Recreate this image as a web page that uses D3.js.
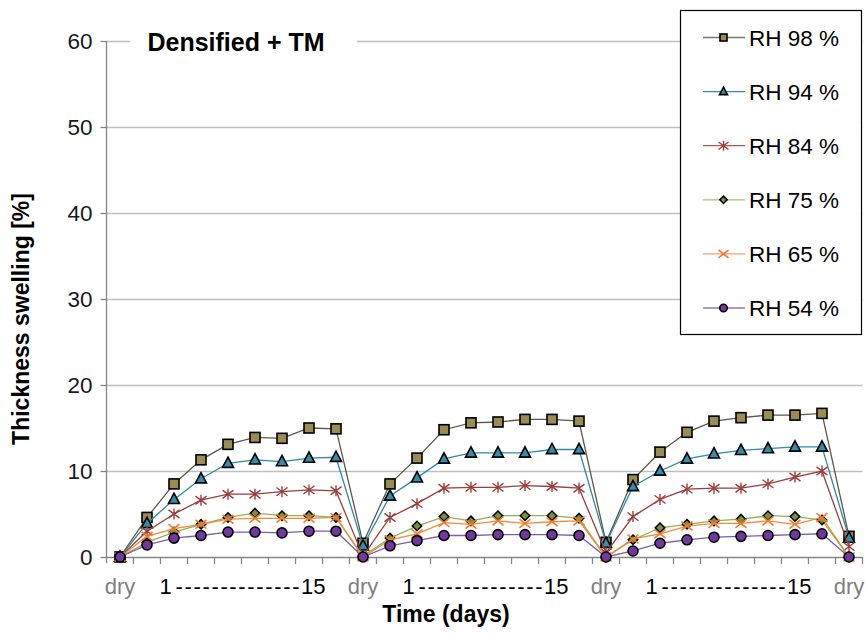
<!DOCTYPE html>
<html>
<head>
<meta charset="utf-8">
<script src="https://cdn.jsdelivr.net/npm/d3@7"></script>
<style>
  body { margin: 0; background: #fff; }
  svg { display: block; font-family: "Liberation Sans", Arial, sans-serif; }
</style>
</head>
<body>
<svg id="chart" width="865" height="633"></svg>
<script>
// Measurement points: a dry reference, eight readings over days 1-15, repeated for three cycles
const categories = [
  "dry 0", "I-1", "I-2", "I-3", "I-4", "I-5", "I-6", "I-7", "I-8",
  "dry 1", "II-1", "II-2", "II-3", "II-4", "II-5", "II-6", "II-7", "II-8",
  "dry 2", "III-1", "III-2", "III-3", "III-4", "III-5", "III-6", "III-7", "III-8",
  "dry 3"
];
const dryPoints = ["dry 0", "dry 1", "dry 2", "dry 3"];
const cycles = [
  ["I-1", "I-8"],
  ["II-1", "II-8"],
  ["III-1", "III-8"]
];
const cycleStart = "1";
const cycleEnd = "15";
const dryLabel = "dry";

const seriesNames = ["RH 98 %", "RH 94 %", "RH 84 %", "RH 75 %", "RH 65 %", "RH 54 %"];

// Thickness swelling [%]
const rh98 = [0, 4.6, 8.5, 11.3, 13.1, 13.9, 13.8, 15.0, 14.9,
              1.6, 8.5, 11.5, 14.8, 15.6, 15.7, 16.0, 16.0, 15.8,
              1.7, 9.0, 12.2, 14.5, 15.8, 16.2, 16.5, 16.5, 16.7,
              2.4];
const rh94 = [0, 3.9, 6.7, 9.1, 10.9, 11.3, 11.1, 11.5, 11.6,
              1.3, 7.1, 9.2, 11.4, 12.1, 12.1, 12.1, 12.5, 12.5,
              1.6, 8.2, 10.0, 11.4, 12.0, 12.4, 12.6, 12.8, 12.8,
              2.2];
const rh84 = [0, 3.0, 5.0, 6.6, 7.3, 7.3, 7.6, 7.8, 7.7,
              0.1, 4.6, 6.2, 8.0, 8.1, 8.1, 8.3, 8.2, 8.0,
              0.5, 4.7, 6.7, 7.9, 8.0, 8.0, 8.5, 9.3, 10.0,
              1.2];
const rh75 = [0, 1.7, 2.9, 3.8, 4.6, 5.1, 4.8, 4.8, 4.6,
              0.1, 2.2, 3.6, 4.7, 4.2, 4.8, 4.8, 4.8, 4.5,
              0, 2.0, 3.4, 3.8, 4.2, 4.4, 4.8, 4.7, 4.3,
              0];
const rh65 = [0, 2.4, 3.3, 3.8, 4.4, 4.5, 4.5, 4.5, 4.6,
              0, 2.0, 2.7, 4.0, 3.8, 4.2, 3.9, 4.1, 4.2,
              0, 2.1, 2.7, 3.6, 3.9, 3.9, 4.2, 3.8, 4.6,
              0];
const rh54 = [0, 1.4, 2.2, 2.5, 2.9, 2.9, 2.8, 3.0, 3.0,
              0, 1.3, 1.9, 2.5, 2.5, 2.6, 2.6, 2.6, 2.5,
              0, 0.7, 1.6, 2.0, 2.3, 2.4, 2.5, 2.6, 2.7,
              0];

const yTicks = [0, 10, 20, 30, 40, 50, 60];
const chartTitle = "Densified + TM";
const xTitle = "Time (days)";
const yTitle = "Thickness swelling [%]";

// Drawing styles per series
const styles = [
  { line: "#5c5846", fill: "#9a8c55", shape: "square" },
  { line: "#2e8aa6", fill: "#2f8fae", shape: "triangle" },
  { line: "#9c3d3b", fill: "#9c3d3b", shape: "star" },
  { line: "#8fb254", fill: "#76923a", shape: "diamond" },
  { line: "#f58a3c", fill: "#f07a2a", shape: "x" },
  { line: "#7f5ea8", fill: "#7338a0", shape: "circle" }
];
const legendLine = ["#7b7768", "#3a8ca6", "#b55753", "#a3c270", "#f7a06a", "#9577b7"];

const values = [rh98, rh94, rh84, rh75, rh65, rh54];
const series = seriesNames.map((name, i) => ({
  name,
  style: styles[i],
  legendLine: legendLine[i],
  points: categories.map((c, j) => ({ cat: c, v: values[i][j] }))
}));

const svg = d3.select("#chart");
const plot = { left: 106.5, right: 862.5, top: 41, bottom: 557 };

const x = d3.scaleBand().domain(categories).range([plot.left, plot.right]).paddingInner(0).paddingOuter(0);
const y = d3.scaleLinear().domain([0, 60]).range([plot.bottom, plot.top]);
const cx = c => x(c) + x.bandwidth() / 2;

const gridColor = "#bfbfbf";
const axisColor = "#868686";

// horizontal gridlines
svg.append("g").selectAll("line")
  .data(yTicks.filter(t => t > 0))
  .join("line")
  .attr("x1", plot.left).attr("x2", plot.right)
  .attr("y1", d => Math.round(y(d)) + 0.5).attr("y2", d => Math.round(y(d)) + 0.5)
  .attr("stroke", gridColor).attr("stroke-width", 1.3);

// y axis
const yAxis = d3.axisLeft(y).tickValues(yTicks).tickSize(6).tickPadding(8).tickFormat(d3.format("d"));
const gy = svg.append("g").attr("transform", `translate(${plot.left},0)`).call(yAxis);
gy.select(".domain").remove();
gy.selectAll(".tick line").attr("stroke", axisColor).attr("stroke-width", 1.3);
gy.selectAll(".tick text").attr("font-size", 22.5).attr("fill", "#1a1a1a")
  .attr("font-family", "Liberation Sans, Arial, sans-serif");
svg.append("line")
  .attr("x1", plot.left).attr("x2", plot.left)
  .attr("y1", plot.top).attr("y2", plot.bottom + 6)
  .attr("stroke", axisColor).attr("stroke-width", 1.3);

// x axis with ticks on category boundaries
svg.append("line")
  .attr("x1", plot.left).attr("x2", plot.right)
  .attr("y1", plot.bottom + 0.5).attr("y2", plot.bottom + 0.5)
  .attr("stroke", axisColor).attr("stroke-width", 1.3);
svg.append("g").selectAll("line")
  .data(categories.slice(1).concat(["__end"]))
  .join("line")
  .attr("x1", d => d === "__end" ? plot.right : x(d))
  .attr("x2", d => d === "__end" ? plot.right : x(d))
  .attr("y1", plot.bottom).attr("y2", plot.bottom + 7)
  .attr("stroke", axisColor).attr("stroke-width", 1.3);

// x category labels
const labelY = 594;
svg.append("g").selectAll("text")
  .data(dryPoints)
  .join("text")
  .attr("x", d => cx(d)).attr("y", labelY)
  .attr("text-anchor", "middle")
  .attr("font-size", 22).attr("fill", "#7f7f7f")
  .text(dryLabel);

const cyc = svg.append("g").selectAll("g").data(cycles).join("g")
  .attr("transform", d => `translate(${(cx(d[0]) + cx(d[1])) / 2},${labelY})`);
cyc.append("text").attr("x", -82).attr("text-anchor", "start")
  .attr("font-size", 22).attr("fill", "#000").text(cycleStart);
cyc.append("text").attr("x", 84).attr("text-anchor", "end")
  .attr("font-size", 22).attr("fill", "#000").text(cycleEnd);
cyc.append("text").attr("x", -66)
  .attr("font-size", 22).attr("fill", "#000")
  .attr("textLength", 124).attr("lengthAdjust", "spacing")
  .text(d3.range(14).map(() => "-").join(" "));

// axis titles
svg.append("text")
  .attr("x", 446).attr("y", 622)
  .attr("text-anchor", "middle").attr("font-weight", "bold").attr("font-size", 23)
  .text(xTitle);
svg.append("text")
  .attr("transform", "translate(29,319) rotate(-90)")
  .attr("text-anchor", "middle").attr("font-weight", "bold").attr("font-size", 23)
  .text(yTitle);

// chart title on a white patch over the top gridline
svg.append("rect").attr("x", 130).attr("y", 28).attr("width", 227).attr("height", 30).attr("fill", "#fff");
svg.append("text")
  .attr("x", 236).attr("y", 51)
  .attr("text-anchor", "middle").attr("font-weight", "bold").attr("font-size", 25)
  .text(chartTitle);

// marker drawing
function marker(g, shape, size, st) {
  const r = size / 2;
  if (shape === "square") {
    g.append("rect").attr("x", -r).attr("y", -r).attr("width", size).attr("height", size)
      .attr("fill", st.fill).attr("stroke", "#000").attr("stroke-width", 1.6);
  } else if (shape === "triangle") {
    const h = size * 0.9;
    g.append("path").attr("d", `M0,${-h * 0.62}L${r},${h * 0.42}L${-r},${h * 0.42}Z`)
      .attr("fill", st.fill).attr("stroke", "#000").attr("stroke-width", 1.6).attr("stroke-linejoin", "miter");
  } else if (shape === "diamond") {
    const d = r * 1.05;
    g.append("path").attr("d", `M0,${-d}L${d},0L0,${d}L${-d},0Z`)
      .attr("fill", st.fill).attr("stroke", "#000").attr("stroke-width", 1.5);
  } else if (shape === "circle") {
    g.append("circle").attr("r", r)
      .attr("fill", st.fill).attr("stroke", "#000").attr("stroke-width", 1.6);
  } else if (shape === "star") {
    g.append("path").attr("d", `M${-r},${-r * 0.75}L${r},${r * 0.75}M${-r},${r * 0.75}L${r},${-r * 0.75}M0,${-r}L0,${r}`)
      .attr("fill", "none").attr("stroke", st.fill).attr("stroke-width", 1.4);
  } else if (shape === "x") {
    g.append("path").attr("d", `M${-r},${-r * 0.8}L${r},${r * 0.8}M${-r},${r * 0.8}L${r},${-r * 0.8}`)
      .attr("fill", "none").attr("stroke", st.fill).attr("stroke-width", 1.6);
  }
}
const chartSize = { square: 10, triangle: 11, diamond: 9, circle: 10, star: 11, x: 11 };
const legendSize = { square: 7, triangle: 8, diamond: 7, circle: 7.5, star: 10, x: 10 };

// series lines and markers
const line = d3.line().x(d => cx(d.cat)).y(d => y(d.v));
const sg = svg.append("g").selectAll("g").data(series).join("g");
sg.append("path")
  .attr("d", d => line(d.points))
  .attr("fill", "none")
  .attr("stroke", d => d.style.line)
  .attr("stroke-width", 1.3);
sg.each(function (s) {
  const g = d3.select(this);
  g.selectAll("g.m").data(s.points).join("g").attr("class", "m")
    .attr("transform", d => `translate(${cx(d.cat)},${y(d.v)})`)
    .each(function () { marker(d3.select(this), s.style.shape, chartSize[s.style.shape], s.style); });
});

// legend
const lg = svg.append("g");
lg.append("rect").attr("x", 680.5).attr("y", 10.5).attr("width", 181).attr("height", 324)
  .attr("fill", "#fff").attr("stroke", "#000").attr("stroke-width", 1.2);
const rowY = d3.scalePoint().domain(seriesNames).range([37.5, 308]);
const rows = lg.selectAll("g.row").data(series).join("g").attr("class", "row")
  .attr("transform", d => `translate(0,${rowY(d.name)})`);
rows.append("line").attr("x1", 703).attr("x2", 745).attr("y1", 0).attr("y2", 0)
  .attr("stroke", d => d.legendLine).attr("stroke-width", 1.3);
rows.each(function (s) {
  const g = d3.select(this).append("g").attr("transform", "translate(723.5,0)");
  marker(g, s.style.shape, legendSize[s.style.shape], s.style);
});
rows.append("text").attr("x", 749).attr("dy", "0.36em")
  .attr("font-size", 22.5).attr("fill", "#000")
  .text(d => d.name);
</script>
</body>
</html>
